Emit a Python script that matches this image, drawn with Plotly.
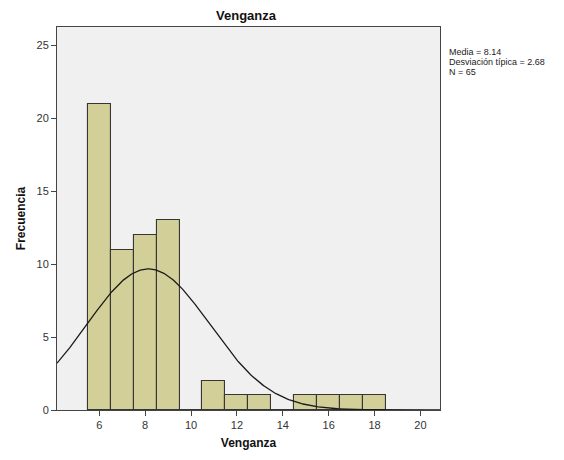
import numpy as np
import plotly.graph_objects as go

# Data
bin_centers = [6, 7, 8, 9, 10, 11, 12, 13, 14, 15, 16, 17, 18]
frequencies = [21, 11, 12, 13, 0, 2, 1, 1, 0, 1, 1, 1, 1]
mean_val = 8.14
sd_val = 2.68
n_val = 65
bin_width = 1.0
x_ticks = [6, 8, 10, 12, 14, 16, 18, 20]
y_ticks = [0, 5, 10, 15, 20, 25]
x_range = [4.16, 20.85]
y_range = [0, 26.27]

# Fitted normal curve (SPSS overlay) from stated mean / sd / N
xc = np.linspace(x_range[0], x_range[1], 300)
yc = n_val * bin_width / (sd_val * np.sqrt(2 * np.pi)) * np.exp(-0.5 * ((xc - mean_val) / sd_val) ** 2)

font_family = "Liberation Sans, Arial, sans-serif"

# the page body adds an 8px margin, so the figure is sized/offset to compensate
W, H = 556, 452
ML, MR, MT, MB = 44, 124, 19, 50

fig = go.Figure()
fig.add_trace(go.Bar(
    x=bin_centers, y=frequencies, width=bin_width,
    marker=dict(color="#D3CF98", line=dict(color="#363636", width=1.1)),
    showlegend=False, hoverinfo="x+y",
))
fig.add_trace(go.Scatter(
    x=xc, y=yc, mode="lines",
    line=dict(color="#1A1A1A", width=1.3),
    showlegend=False, hoverinfo="skip",
))

fig.update_layout(
    width=W, height=H,
    margin=dict(l=ML, r=MR, t=MT, b=MB),
    paper_bgcolor="white",
    plot_bgcolor="#F0F0F0",
    font=dict(family=font_family, size=11, color="#333333"),
    bargap=0,
    title=dict(text="<b>Venganza</b>", x=(ML + W - MR) / 2 / W, xanchor="center",
               y=1 - 7 / H, yanchor="middle",
               font=dict(size=13, color="#111111", family=font_family)),
    xaxis=dict(
        range=x_range, tickvals=x_ticks, ticks="outside", ticklen=5,
        tickcolor="#444444", showgrid=False, zeroline=False,
        showline=True, linecolor="#444444", linewidth=1, mirror=True,
        tickfont=dict(size=11, color="#333333"),
        title=dict(text="<b>Venganza</b>", font=dict(size=12, color="#111111"), standoff=8),
    ),
    yaxis=dict(
        range=y_range, tickvals=y_ticks, ticks="outside", ticklen=5,
        tickcolor="#444444", showgrid=False, zeroline=False,
        showline=True, linecolor="#444444", linewidth=1, mirror=True,
        tickfont=dict(size=11, color="#333333"),
        title=dict(text="<b>Frecuencia</b>", font=dict(size=12, color="#111111"), standoff=8),
    ),
)

stats_lines = [
    f"Media = {mean_val:.2f}",
    f"Desviación típica = {sd_val:.2f}",
    f"N = {n_val}",
]
line_y = [0.936, 0.909, 0.882]
for txt, yy in zip(stats_lines, line_y):
    fig.add_annotation(
        text=txt, xref="paper", yref="paper", x=1.017, y=yy,
        xanchor="left", yanchor="middle", showarrow=False,
        font=dict(size=9, color="#222222", family=font_family),
    )

fig.write_html("out.html")
